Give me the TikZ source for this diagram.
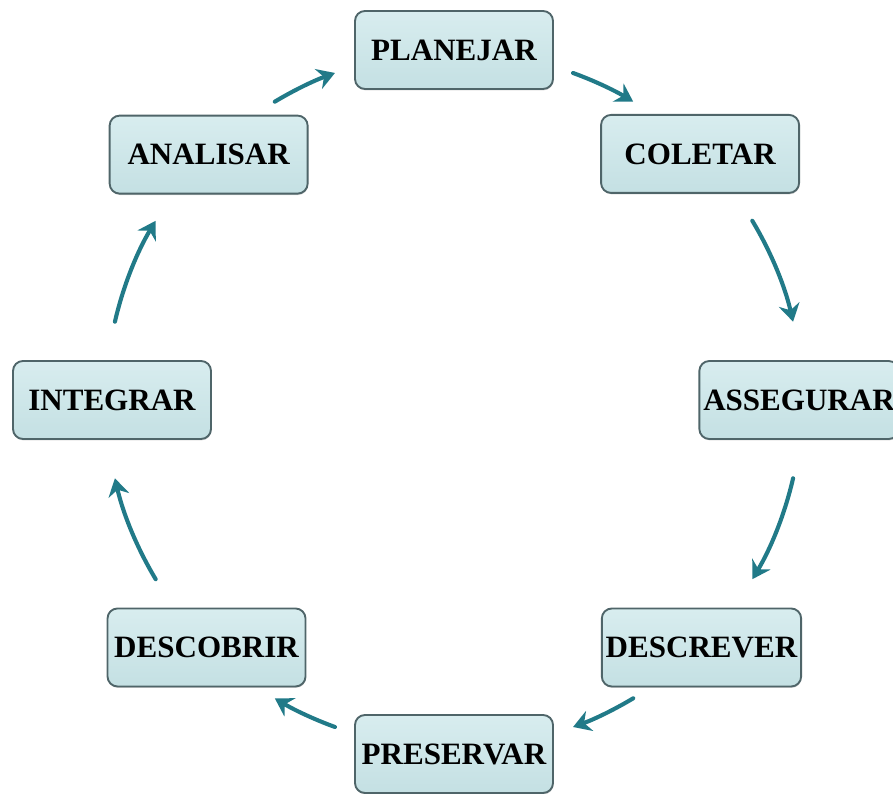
\documentclass[tikz,border=0pt]{standalone}
\usepackage{fontspec}
\setmainfont{Liberation Serif}
\usepackage{tikz}
\usetikzlibrary{arrows.meta,shadows}
\definecolor{boxtop}{HTML}{D8EDEF}
\definecolor{boxbottom}{HTML}{C4E0E3}
\definecolor{boxline}{HTML}{4F6569}
\definecolor{cycleteal}{HTML}{217A88}

\begin{document}
\begin{tikzpicture}[x=0.03cm,y=0.03cm,
    stage/.style={draw=boxline,line width=1.6pt,rounded corners=0.3cm,
      top color=boxtop,bottom color=boxbottom,
      drop shadow={shadow xshift=0.4pt,shadow yshift=-1.2pt,opacity=0.35},
      minimum width=5.94cm,minimum height=2.34cm,
      font=\fontsize{26.5}{30}\selectfont\bfseries},
    flow/.style={cycleteal,line width=3.5pt,line cap=round,
      -{Stealth[length=15pt,width=18pt,inset=5pt]}}]
  \useasboundingbox (0,0) rectangle (893,794);
  \coordinate (hub) at (454,394);
  % the eight stages round the cycle
  \node[stage] (planejar) at ([shift={(90:350)}]hub) {PLANEJAR};
  \node[stage] (coletar) at ([shift={(45:348)}]hub) {COLETAR};
  \node[stage] (assegurar) at ([shift={(0:345)}]hub) {ASSEGURAR};
  \node[stage] (descrever) at ([shift={(-45:350)}]hub) {DESCREVER};
  \node[stage] (preservar) at ([shift={(-90:354)}]hub) {PRESERVAR};
  \node[stage] (descobrir) at ([shift={(-135:350)}]hub) {DESCOBRIR};
  \node[stage] (integrar) at ([shift={(180:342)}]hub) {INTEGRAR};
  \node[stage] (analisar) at ([shift={(135:347)}]hub) {ANALISAR};
  % arrows along the circle
  \draw[flow] ([shift={(70:348)}]hub) arc[start angle=70,end angle=59,radius=348];
  \draw[flow] ([shift={(31:348)}]hub) arc[start angle=31,end angle=13,radius=348];
  \draw[flow] ([shift={(-13:348)}]hub) arc[start angle=-13,end angle=-31,radius=348];
  \draw[flow] ([shift={(-59:348)}]hub) arc[start angle=-59,end angle=-70,radius=348];
  \draw[flow] ([shift={(-110:348)}]hub) arc[start angle=-110,end angle=-121,radius=348];
  \draw[flow] ([shift={(-149:348)}]hub) arc[start angle=-149,end angle=-167,radius=348];
  \draw[flow] ([shift={(167:348)}]hub) arc[start angle=167,end angle=149,radius=348];
  \draw[flow] ([shift={(121:348)}]hub) arc[start angle=121,end angle=110,radius=348];
\end{tikzpicture}
\end{document}
